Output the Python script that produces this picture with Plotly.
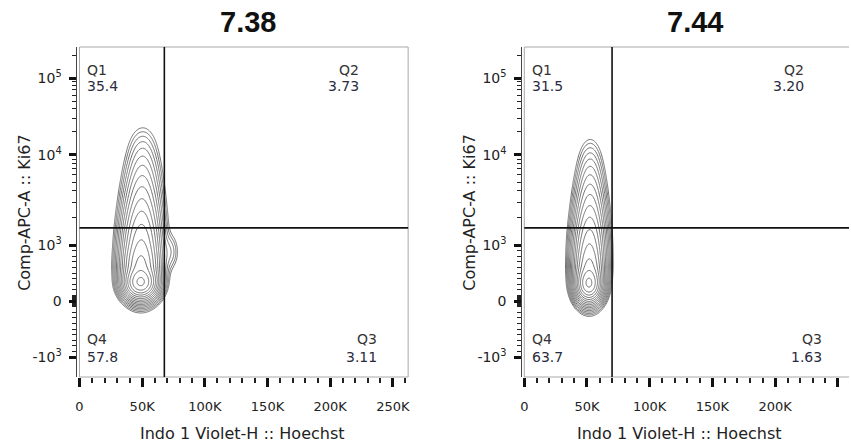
import numpy as np
import plotly.graph_objects as go

W, H = 851, 443

# ---------------- data ----------------
PANEL_TITLES = ["7.38", "7.44"]
X_TITLE = "Indo 1 Violet-H :: Hoechst"
Y_TITLE = "Comp-APC-A :: Ki67"

X_TICKS = [0, 50000, 100000, 150000, 200000, 250000]
X_TICK_TEXT = ["0", "50K", "100K", "150K", "200K", "250K"]
X_MINOR = [v for v in range(10000, 270000, 10000) if v % 50000]

Y_TICKS = [-1000, 0, 1000, 10000, 100000]
Y_TICK_TEXT = ["-10<sup>3</sup>", "0", "10<sup>3</sup>", "10<sup>4</sup>", "10<sup>5</sup>"]
Y_MINOR = ([-900, -800, -700, -600, -500, -400, -300, -200, -100]
           + [-90, -80, -70, -60, -50, -40, -30, -20, -10, 10, 20, 30, 40, 50, 60, 70, 80, 90]
           + [100, 200, 300, 400, 500, 600, 700, 800, 900]
           + [2000, 3000, 4000, 5000, 6000, 7000, 8000, 9000]
           + [20000, 30000, 40000, 50000, 60000, 70000, 80000, 90000, 200000])

# biexponential (logicle-like) display scale anchors
Y_ANCHOR_VALUES = [-1353, -1000, 0, 1000, 10000, 100000, 262144]
Y_ANCHOR_POS = [0.0, 0.06, 0.23, 0.40, 0.673, 0.906, 1.0]

X_MAX = 262144

# quadrant gates
GATE_X = [67700, 70000]
GATE_Y = [1550, 1550]

# quadrant frequencies  (Q1, Q2, Q3, Q4)
Q_LEFT = ["35.4", "3.73", "3.11", "57.8"]
Q_RIGHT = ["31.5", "3.20", "1.63", "63.7"]

# population components (Hoechst centre, Ki67 centre, Hoechst spread, display spread, weight)
L_CX = [48800, 49000, 49300, 49600, 49900, 50200, 50500, 72000]
L_CY = [324, 588, 1000, 1800, 3260, 5880, 10700, 880]
L_SX = [5900, 6800, 7000, 7000, 6900, 6700, 6400, 4000]
L_SY = [0.022, 0.04, 0.045, 0.045, 0.045, 0.045, 0.045, 0.03]
L_W = [1.0, 0.45, 0.22, 0.10, 0.045, 0.018, 0.006, 0.005]

R_CX = [51500, 51800, 52000, 52200, 52400, 52500, 52600]
R_CY = [300, 529, 912, 1520, 2640, 4560, 7890]
R_SX = [4600, 5500, 5800, 5800, 5700, 5500, 5200]
R_SY = [0.024, 0.04, 0.045, 0.045, 0.045, 0.045, 0.045]
R_W = [1.0, 0.45, 0.22, 0.10, 0.045, 0.018, 0.006]

# ---------------- scale helpers ----------------
def _u(v):
    v = np.asarray(v, dtype=float)
    a = np.abs(v)
    return np.where(a <= 1000, v / 1000.0, np.sign(v) * (1 + np.log10(np.maximum(a, 1) / 1000.0)))


def ky(v):
    return np.interp(_u(v), _u(Y_ANCHOR_VALUES), Y_ANCHOR_POS)


def density(cx, cy, sx, sy, w):
    xg = np.linspace(0, X_MAX, 320)
    yg = np.linspace(0, 1, 340)
    X, Y = np.meshgrid(xg, yg)
    D = np.zeros_like(X)
    for a, b, c, d, e in zip(cx, cy, sx, sy, w):
        D += e * np.exp(-0.5 * ((X - a) / c) ** 2 - 0.5 * ((Y - float(ky(b))) / d) ** 2)
    Z = np.log10(D / D.max() + 1e-12)
    return xg, yg, Z


def px(x):
    return x / W


def py(y):
    return 1 - y / H


# ---------------- figure ----------------
fig = go.Figure()

panels = [
    dict(xa="x", ya="y", xd=[76 / W, 407 / W], xr=[0, X_MAX], ypos=73 / W,
         comps=(L_CX, L_CY, L_SX, L_SY, L_W), q=Q_LEFT, gx=GATE_X[0], gy=GATE_Y[0], left=76),
    dict(xa="x2", ya="y2", xd=[524 / W, 1.0], xr=[0, X_MAX * (W - 524) / 331], ypos=521 / W,
         comps=(R_CX, R_CY, R_SX, R_SY, R_W), q=Q_RIGHT, gx=GATE_X[1], gy=GATE_Y[1], left=524),
]

YD = [py(377), py(47)]
font_tick = dict(family="DejaVu Sans", size=13, color="#222")
font_ytick = dict(family="DejaVu Sans", size=14, color="#222")

for i, p in enumerate(panels):
    xg, yg, Z = density(*p["comps"])
    fig.add_trace(go.Contour(
        x=xg, y=yg, z=Z, xaxis=p["xa"], yaxis=p["ya"],
        contours=dict(coloring="lines", start=-2.9, end=-0.05, size=0.19),
        line=dict(width=1, smoothing=1),
        colorscale=[[0, "#6e6e6e"], [1, "#6e6e6e"]], showscale=False,
        hoverinfo="skip",
    ))
    sfx = "" if i == 0 else "2"
    fig.layout["xaxis" + sfx] = dict(
        domain=p["xd"], range=p["xr"], anchor=p["ya"],
        tickmode="array", tickvals=X_TICKS, ticktext=X_TICK_TEXT,
        ticks="outside", ticklen=9, tickwidth=3, tickcolor="#111",
        ticklabelstandoff=8,
        minor=dict(tickmode="array", tickvals=X_MINOR, ticks="outside", ticklen=5,
                   tickwidth=1.5, tickcolor="#222"),
        showgrid=False, zeroline=False, showline=False, tickfont=font_tick,
    )
    fig.layout["yaxis" + sfx] = dict(
        domain=YD, range=[0, 1], anchor="free", position=p["ypos"], side="left",
        tickmode="array", tickvals=list(ky(Y_TICKS)), ticktext=Y_TICK_TEXT,
        ticks="outside", ticklen=7, tickwidth=3, tickcolor="#111",
        ticklabelstandoff=5,
        minor=dict(tickmode="array", tickvals=list(ky(Y_MINOR)), ticks="outside", ticklen=4,
                   tickwidth=1.3, tickcolor="#222"),
        showgrid=False, zeroline=False, showline=True, linecolor="#444", linewidth=1,
        tickfont=font_ytick,
    )
    xd = p["xa"] + " domain"
    yd = p["ya"] + " domain"
    frame = dict(color="#a8a8a8", width=1)
    # frame
    fig.add_shape(type="line", xref=xd, yref=yd, x0=0, x1=1, y0=1, y1=1, line=frame)
    fig.add_shape(type="line", xref=xd, yref=yd, x0=0, x1=1, y0=0, y1=0, line=frame)
    fig.add_shape(type="line", xref=xd, yref=yd, x0=0, x1=0, y0=0, y1=1, line=frame)
    if i == 0:
        fig.add_shape(type="line", xref=xd, yref=yd, x0=1, x1=1, y0=0, y1=1, line=frame)
    # quadrant gates
    gate = dict(color="#111", width=1.6)
    fig.add_shape(type="line", xref=p["xa"], yref=yd, x0=p["gx"], x1=p["gx"], y0=0, y1=1, line=gate)
    fig.add_shape(type="line", xref=xd, yref=p["ya"], x0=0, x1=1,
                  y0=float(ky(p["gy"])), y1=float(ky(p["gy"])), line=gate)

    L = p["left"]
    qf = dict(family="DejaVu Sans", size=14, color="#333")
    nf = dict(family="DejaVu Sans", size=14, color="#2a2a40")
    q = p["q"]
    # Q1
    fig.add_annotation(x=px(L + 6), y=py(70), text="Q1", xanchor="left", font=qf)
    fig.add_annotation(x=px(L + 6), y=py(86), text=q[0], xanchor="left", font=nf)
    # Q2
    fig.add_annotation(x=px(L + 284), y=py(70), text="Q2", xanchor="right", font=qf)
    fig.add_annotation(x=px(L + 284), y=py(86), text=q[1], xanchor="right", font=nf)
    # Q3
    fig.add_annotation(x=px(L + 302), y=py(339), text="Q3", xanchor="right", font=qf)
    fig.add_annotation(x=px(L + 302), y=py(357), text=q[2], xanchor="right", font=nf)
    # Q4
    fig.add_annotation(x=px(L + 6), y=py(339), text="Q4", xanchor="left", font=qf)
    fig.add_annotation(x=px(L + 6), y=py(357), text=q[3], xanchor="left", font=nf)

    # titles
    fig.add_annotation(x=px(L + 170 + (0 if i == 0 else 2)), y=py(22), text="<b>" + PANEL_TITLES[i] + "</b>",
                       xanchor="center",
                       font=dict(family="Liberation Sans Narrow, Liberation Sans, Arial", size=29, color="#111"))
    fig.add_annotation(x=px(L + 164 - (0 if i == 0 else 8)), y=py(433), text=X_TITLE, xanchor="center",
                       font=dict(family="DejaVu Sans", size=16, color="#222"))
    fig.add_annotation(x=px(L - 56), y=py(212), text=Y_TITLE, textangle=-90, xanchor="center",
                       font=dict(family="DejaVu Sans", size=16, color="#222"))

for a in fig.layout.annotations:
    a.update(xref="paper", yref="paper", showarrow=False, yanchor="middle")

fig.update_layout(
    width=W, height=H, margin=dict(l=0, r=0, t=0, b=0),
    paper_bgcolor="white", plot_bgcolor="white", showlegend=False,
)

fig.write_html("out.html", config={"displayModeBar": False},
               post_script="document.body.style.margin='0px';document.body.style.padding='0px';")
